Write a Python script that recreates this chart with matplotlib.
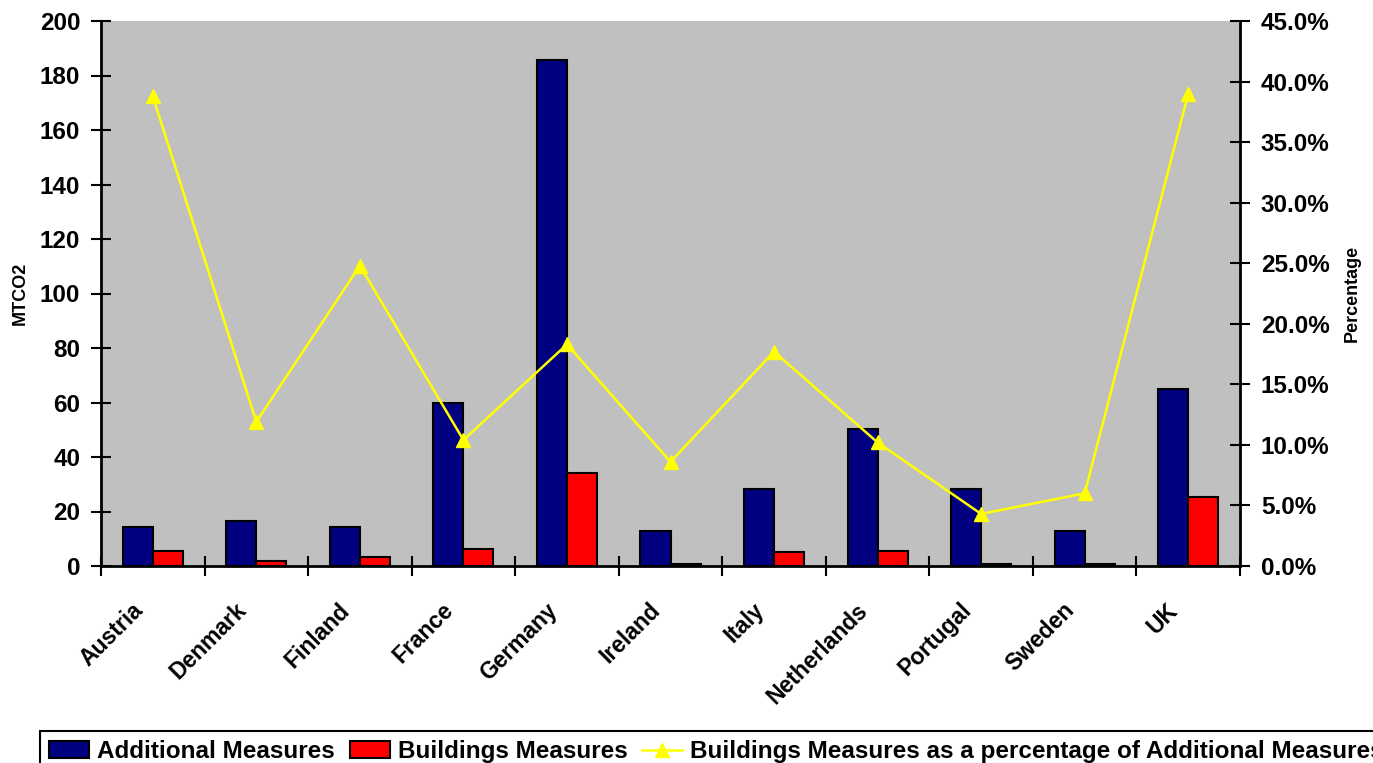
import matplotlib
matplotlib.use("Agg")
import matplotlib.pyplot as plt
import numpy as np
from matplotlib.ticker import FuncFormatter, MultipleLocator

countries = ["Austria", "Denmark", "Finland", "France", "Germany", "Ireland",
             "Italy", "Netherlands", "Portugal", "Sweden", "UK"]
additional = [14.3, 16.5, 14.3, 59.7, 185.8, 12.8, 28.2, 50.2, 28.2, 12.8, 64.8]
buildings = [5.6, 1.8, 3.3, 6.2, 34.0, 0.7, 5.1, 5.6, 0.7, 0.7, 25.4]
percentage = [38.8, 11.9, 24.8, 10.4, 18.3, 8.6, 17.7, 10.2, 4.3, 6.0, 39.0]

plt.rcParams['font.family'] = ['Liberation Sans', 'DejaVu Sans']
plt.rcParams['font.weight'] = 'bold'

fig = plt.figure(figsize=(13.73, 7.63), dpi=100)
ax = fig.add_axes([101/1373, 1 - 566/763, (1240-101)/1373, (566-21)/763])
ax.set_facecolor('#C0C0C0')

x = np.arange(len(countries))
w = 0.29
ax.bar(x - w/2, additional, w, color='#000080', edgecolor='black', linewidth=1.5,
       label='Additional Measures', zorder=2)
ax.bar(x + w/2, buildings, w, color='#FF0000', edgecolor='black', linewidth=1.5,
       label='Buildings Measures', zorder=2)

ax.set_xlim(-0.5, len(countries) - 0.5)
ax.set_ylim(0, 200)
ax.yaxis.set_major_locator(MultipleLocator(20))
ax.set_xticks(np.arange(len(countries) + 1) - 0.5)
ax.set_xticklabels([])
ax.tick_params(axis='x', direction='inout', length=14, width=1.5)
ax.tick_params(axis='y', direction='inout', length=14, width=1.5, labelsize=17.5, pad=8)
for lab in ax.get_yticklabels():
    lab.set_fontweight('bold')

for i, name in enumerate(countries):
    ax.text(i - 0.21, -12, name, rotation=45, ha='right', va='top',
            rotation_mode='anchor', fontsize=16.5, fontweight='bold',
            transform=ax.transData, clip_on=False)

for s in ['top', 'right']:
    ax.spines[s].set_visible(False)
ax.spines['left'].set_linewidth(2)
ax.spines['bottom'].set_linewidth(2)

ax.set_ylabel('MTCO2', fontsize=13, fontweight='bold', labelpad=8)

ax2 = ax.twinx()
ax2.set_ylim(0, 45)
ax2.yaxis.set_major_locator(MultipleLocator(5))
ax2.yaxis.set_major_formatter(FuncFormatter(lambda v, p: f"{v:.1f}%"))
ax2.plot(x, percentage, color='#FFFF00', linewidth=1.8, marker='^', markersize=10,
         label='Buildings Measures as a percentage of Additional Measures', zorder=3)
ax2.tick_params(axis='y', direction='inout', length=14, width=1.5, labelsize=17.5, pad=8)
for lab in ax2.get_yticklabels():
    lab.set_fontweight('bold')
for s in ['top', 'left', 'bottom']:
    ax2.spines[s].set_visible(False)
ax2.spines['right'].set_linewidth(2)
ax2.set_ylabel('Percentage', fontsize=13, fontweight='bold', labelpad=10)

h1, l1 = ax.get_legend_handles_labels()
h2, l2 = ax2.get_legend_handles_labels()
leg = fig.legend(h1 + h2, l1 + l2, loc='upper left', ncol=3,
                 bbox_to_anchor=(40/1373, 1 - 731/763),
                 prop={'size': 17.5, 'weight': 'bold'}, frameon=True, fancybox=False,
                 edgecolor='black', framealpha=1, borderpad=0.38, handlelength=1.65,
                 handletextpad=0.33, columnspacing=0.6, borderaxespad=0)
leg.get_frame().set_linewidth(1.5)

fig.savefig('out.png', dpi=100)
